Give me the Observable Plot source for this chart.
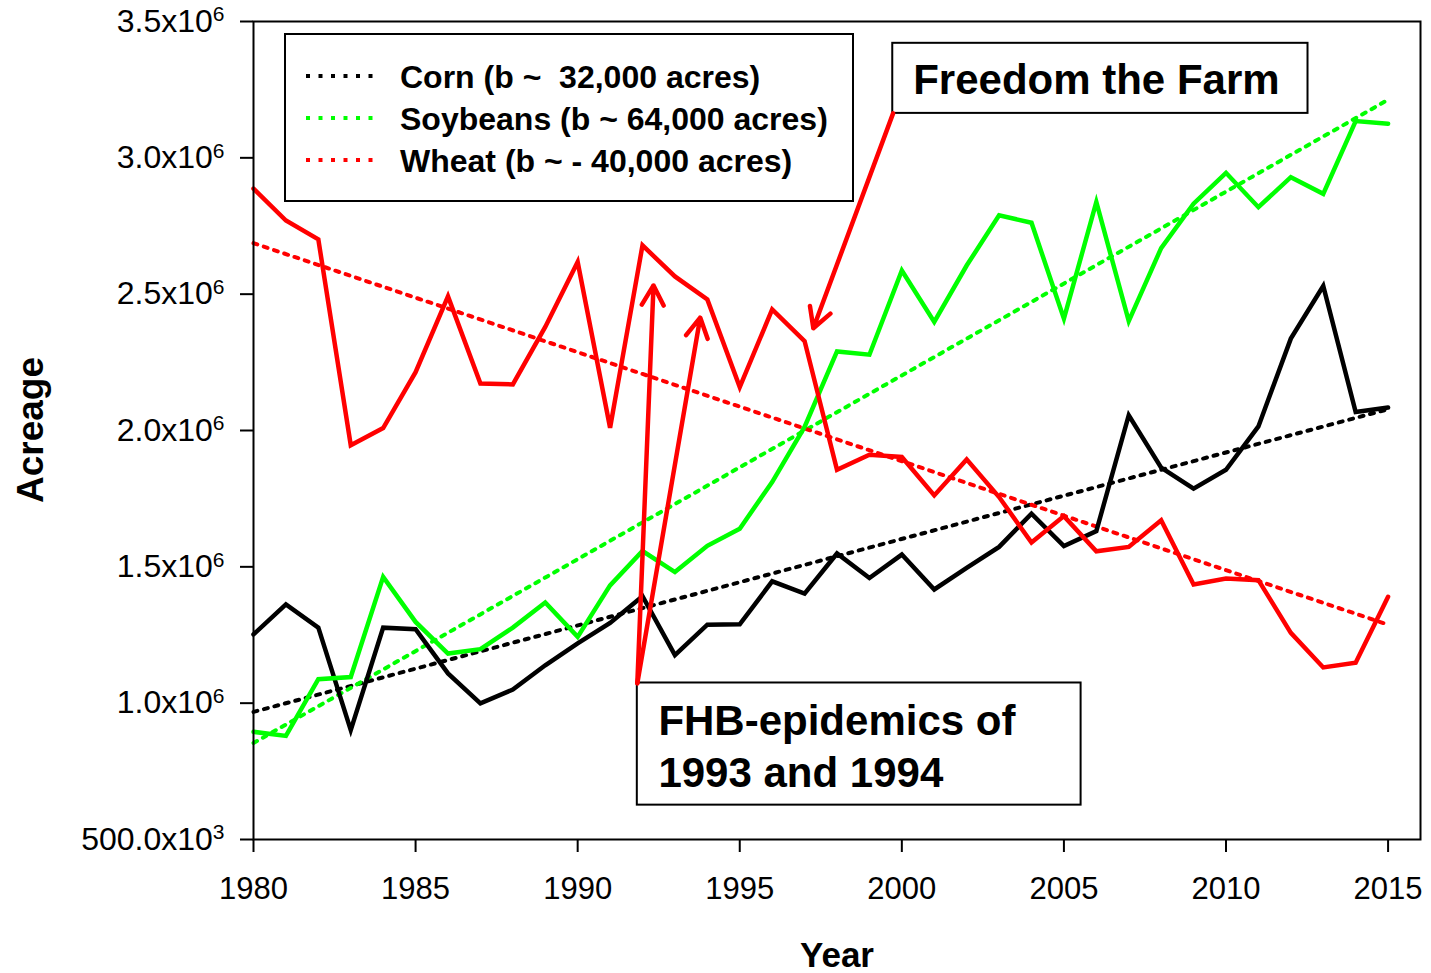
<!DOCTYPE html>
<html><head><meta charset="utf-8">
<script src="https://cdn.jsdelivr.net/npm/d3@7"></script>
<script src="https://cdn.jsdelivr.net/npm/@observablehq/plot@0.6"></script>
<style>
html,body{margin:0;padding:0;background:#fff;}
#chart svg{display:block;}
</style></head><body><div id="chart"></div>
<script>
// ---- data ----
const years = [1980,1981,1982,1983,1984,1985,1986,1987,1988,1989,1990,1991,1992,1993,1994,1995,1996,1997,1998,1999,2000,2001,2002,2003,2004,2005,2006,2007,2008,2009,2010,2011,2012,2013,2014,2015];
const corn = [1252000,1362000,1277000,901000,1277000,1271000,1109000,999000,1050000,1139000,1219000,1294000,1392000,1176000,1288000,1289000,1447000,1402000,1549000,1459000,1545000,1417000,1496000,1573000,1695000,1576000,1631000,2056000,1864000,1787000,1856000,2015000,2337000,2530000,2068000,2084000];
const soybeans = [895000,880000,1088000,1096000,1463000,1298000,1182000,1198000,1277000,1369000,1243000,1432000,1558000,1481000,1577000,1640000,1811000,2013000,2290000,2278000,2587000,2398000,2605000,2789000,2762000,2410000,2838000,2401000,2669000,2832000,2945000,2819000,2929000,2868000,3135000,3125000];
const wheat = [2887000,2770000,2701000,1946000,2009000,2214000,2492000,2172000,2169000,2380000,2618000,2010000,2679000,2565000,2481000,2159000,2444000,2328000,1856000,1911000,1903000,1762000,1894000,1756000,1589000,1686000,1557000,1573000,1671000,1435000,1457000,1451000,1258000,1131000,1148000,1390000];

const trendYears = [1980, 2015];
const cornTrend = [968000, 2078000];
const soyTrend = [854000, 3213000];
const wheatTrend = [2687000, 1288000];

const seriesNames = ["Corn", "Soybeans", "Wheat"];
const seriesColors = ["#000000", "#00ff00", "#ff0000"];
const legendLabels = ["Corn (b ~  32,000 acres)", "Soybeans (b ~ 64,000 acres)", "Wheat (b ~ - 40,000 acres)"];

const xTicks = [1980,1985,1990,1995,2000,2005,2010,2015];
const yTicks = [500000,1000000,1500000,2000000,2500000,3000000,3500000];
const yTickMantissa = ["500.0x10","1.0x10","1.5x10","2.0x10","2.5x10","3.0x10","3.5x10"];
const yTickExponent = ["3","6","6","6","6","6","6"];

// annotations (data space)
const noteText = ["FHB-epidemics of\n1993 and 1994", "Freedom the Farm"];
const noteYear = [1992.49, 2000.35];
const noteValue = [1018000, 3368000];
const boxYear1 = [1991.84, 1999.72];
const boxYear2 = [2005.53, 2012.53];
const boxValue1 = [626000, 3163000];
const boxValue2 = [1074000, 3420000];
const arrowYear1 = [1991.84, 1991.84, 1999.73];
const arrowValue1 = [1073000, 1073000, 3163000];
const arrowYear2 = [1992.34, 1993.78, 1997.27];
const arrowValue2 = [2532000, 2414000, 2375000];

// ---- build tables ----
const seriesValues = [corn, soybeans, wheat];
const trendValues = [cornTrend, soyTrend, wheatTrend];
const lines = seriesNames.map((name, k) => years.map((yr, i) => ({year: yr, value: seriesValues[k][i], series: name})));
const trends = seriesNames.map((name, k) => trendYears.map((yr, i) => ({year: yr, value: trendValues[k][i], series: name})));
const boxes = boxYear1.map((d, i) => ({x1: d, x2: boxYear2[i], y1: boxValue1[i], y2: boxValue2[i]}));
const notes = noteText.map((t, i) => ({text: t, x: noteYear[i], y: noteValue[i]}));
const arrows = arrowYear1.map((d, i) => ({x1: d, y1: arrowValue1[i], x2: arrowYear2[i], y2: arrowValue2[i]}));

const FONT = "'Liberation Sans', Arial, Helvetica, sans-serif";

const marks = [];
trends.forEach((t, k) => marks.push(Plot.line(t, {x: "year", y: "value", stroke: seriesColors[k], strokeWidth: 4, strokeDasharray: "4,6.8"})));
lines.forEach((l, k) => marks.push(Plot.line(l, {x: "year", y: "value", stroke: seriesColors[k], strokeWidth: 4.5, strokeLinejoin: "miter", strokeMiterlimit: 4})));
marks.push(Plot.rect(boxes, {x1: "x1", x2: "x2", y1: "y1", y2: "y2", fill: "white", stroke: "black", strokeWidth: 2}));
marks.push(Plot.text(notes, {x: "x", y: "y", text: "text", textAnchor: "start", lineAnchor: "top", lineHeight: 1.23, fontSize: 42, fontWeight: "bold", fill: "black"}));
marks.push(Plot.arrow(arrows, {x1: "x1", y1: "y1", x2: "x2", y2: "y2", stroke: "#ff0000", strokeWidth: 4.5, headLength: 7.5, headAngle: 58}));
marks.push(Plot.frame({stroke: "black", strokeWidth: 2}));
marks.push(Plot.axisX({ticks: xTicks, tickFormat: d => String(d), tickSize: 13, tickPadding: 24, fontSize: 31, strokeWidth: 2, label: null}));
marks.push(Plot.axisY({ticks: yTicks, tickFormat: d => yTickMantissa[yTicks.indexOf(d)], tickSize: 13, tickPadding: 16, fontSize: 32, strokeWidth: 2, label: null}));

const chart = Plot.plot({
  width: 1431,
  height: 973,
  marginLeft: 253,
  marginRight: 11,
  marginTop: 21,
  marginBottom: 134,
  x: {domain: [1980, 2016]},
  y: {domain: [500000, 3500000]},
  style: {fontFamily: FONT, fontSize: "31px", color: "black", background: "white", overflow: "visible"},
  marks
});
document.getElementById("chart").appendChild(chart);

const svg = d3.select(chart);
// superscripts for y tick labels
svg.selectAll('g[aria-label="y-axis tick label"] text').each(function () {
  const t = d3.select(this);
  const i = yTickMantissa.indexOf(t.text());
  if (i >= 0) t.append("tspan").attr("dy", "-0.5em").attr("font-size", "21px").text(yTickExponent[i]);
});

// axis titles
svg.append("text").attr("x", 837).attr("y", 967).attr("text-anchor", "middle")
  .attr("font-family", FONT).attr("font-size", 35).attr("font-weight", "bold").text("Year");
svg.append("text").attr("transform", "translate(43,430) rotate(-90)").attr("text-anchor", "middle")
  .attr("font-family", FONT).attr("font-size", 37).attr("font-weight", "bold").text("Acreage");

// legend
const lg = svg.append("g").attr("aria-label", "legend");
lg.append("rect").attr("x", 285).attr("y", 34).attr("width", 568).attr("height", 167)
  .attr("fill", "white").attr("stroke", "black").attr("stroke-width", 2);
legendLabels.forEach((lab, k) => {
  const cy = 76 + k * 42;
  lg.append("line").attr("x1", 306).attr("x2", 378).attr("y1", cy).attr("y2", cy)
    .attr("stroke", seriesColors[k]).attr("stroke-width", 4).attr("stroke-dasharray", "4,8.5");
  lg.append("text").attr("x", 400).attr("y", cy + 12).attr("text-anchor", "start").attr("font-family", FONT)
    .attr("font-size", 32).attr("font-weight", "bold").style("white-space", "pre").text(lab);
});
</script></body></html>
